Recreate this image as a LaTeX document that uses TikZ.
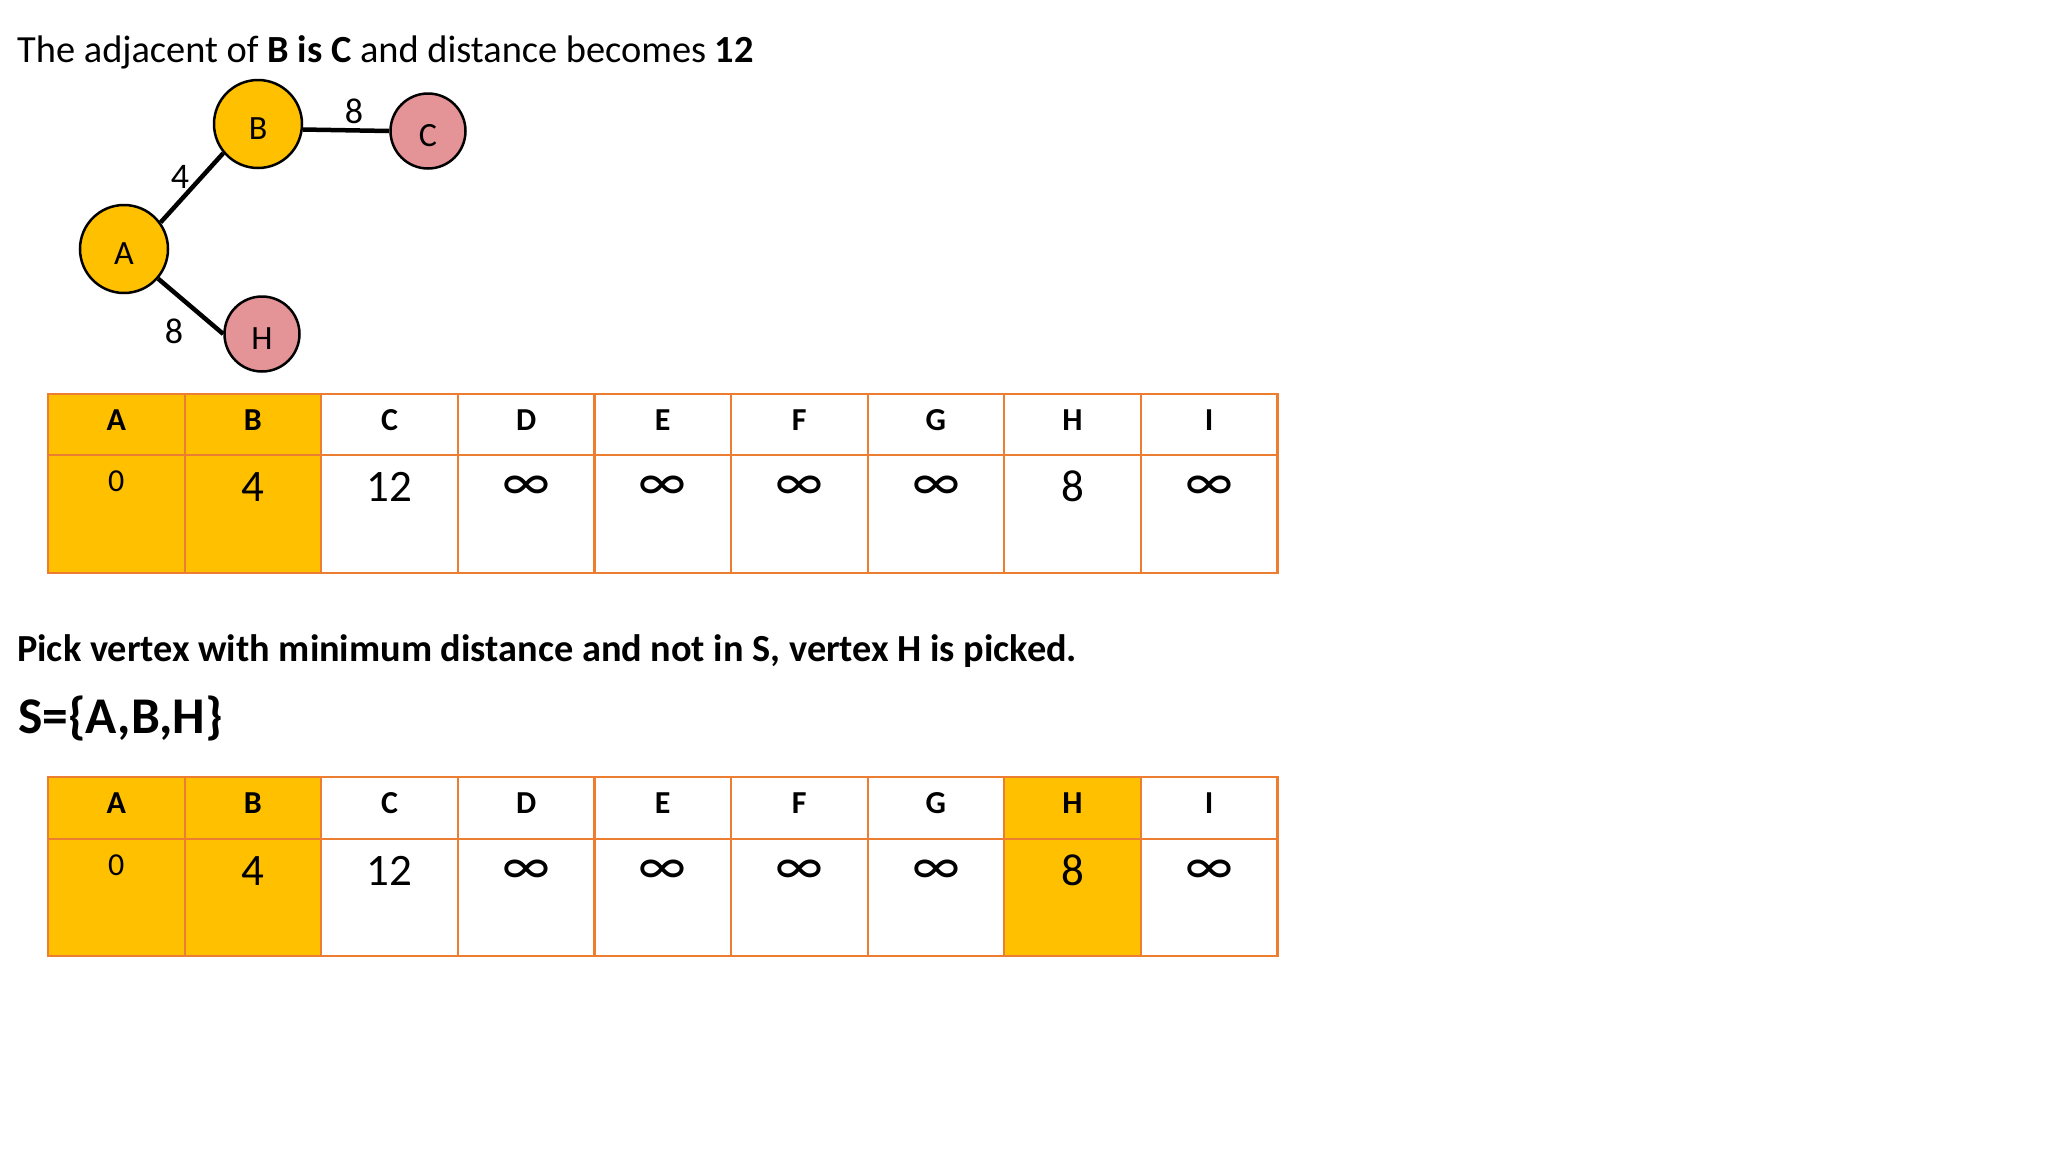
\documentclass[tikz,border=0pt]{standalone}
\usepackage{fontspec}
\setmainfont{Carlito}
\definecolor{yel}{HTML}{FFC000}
\definecolor{pnk}{HTML}{E49497}
\definecolor{org}{HTML}{ED7D31}
\tikzset{
  vtx/.style={circle, draw=black, line width=2.5pt, inner sep=0pt, minimum size=#1, text height=30pt, text depth=0pt, font=\fontsize{34}{40}\selectfont},
  edge/.style={line width=4.5pt, black},
  elab/.style={inner sep=0pt, font=\fontsize{36}{42}\selectfont},
  cell/.style={rectangle, draw=org, line width=2.2pt, inner sep=0pt},
  hdr/.style={anchor=base, inner sep=0pt, font=\fontsize{32}{36}\selectfont\bfseries},
  vsmall/.style={anchor=base, inner sep=0pt, yshift=-36pt, font=\fontsize{32}{38}\selectfont},
  vbig/.style={anchor=base, inner sep=0pt, yshift=-46pt, font=\fontsize{45}{50}\selectfont},
  vinf/.style={anchor=center, inner sep=0pt, yshift=-33pt, font=\fontsize{56}{60}\selectfont},
}
\newcommand{\dtable}[5]{%
  \foreach \i/\l/\v/\vs/\fc in {#5}{%
    \pgfmathsetmacro{\xc}{48+(\i+0.5)*136.6}
    \node[cell, fill=\fc, minimum width=136.6pt, minimum height={#3-#2}] (#1h\i) at (\xc,{(#2+#3)/2}) {};
    \node[cell, fill=\fc, minimum width=136.6pt, minimum height={#4-#3}] (#1c\i) at (\xc,{(#3+#4)/2}) {};
    \node[hdr] (#1l\i) at (\xc,{#2+36}) {\l};
    \node[\vs] (#1v\i) at (\xc,#3) {\v};
  }%
}
\begin{document}
\begin{tikzpicture}[x=1pt,y=-1pt]
\useasboundingbox[fill=white] (0,0) rectangle (2048,1152);

% title
\node[anchor=base west, inner sep=0pt, font=\fontsize{38.4}{44}\selectfont] (title) at (17,62)
  {The adjacent of \textbf{B is C} and distance becomes \textbf{12}};

% graph
\node[vtx=88pt, fill=yel] (A) at (124,249) {A};
\node[vtx=88pt, fill=yel] (B) at (258,124) {B};
\node[vtx=75pt, fill=pnk] (C) at (428,131) {C};
\node[vtx=75pt, fill=pnk] (H) at (262,334) {H};
\draw[edge] (A.36) -- (B.220);
\draw[edge] (B.-7) -- (C.west);
\draw[edge] (A.-41) -- (H.west);
\node[elab] (l1) at (180,177) {4};
\node[elab] (l2) at (354,111) {8};
\node[elab] (l3) at (174,331) {8};

% table 1
\dtable{ta}{394}{455}{573}{0/A/0/vsmall/yel, 1/B/4/vbig/yel, 2/C/12/vbig/white, 3/D/∞/vinf/white, 4/E/∞/vinf/white, 5/F/∞/vinf/white, 6/G/∞/vinf/white, 7/H/8/vbig/white, 8/I/∞/vinf/white}

% texts
\node[anchor=base west, inner sep=0pt, font=\fontsize{38.3}{44}\selectfont\bfseries] (pick) at (17,661)
  {Pick vertex with minimum distance and not in S, vertex H is picked.};
\node[anchor=base west, inner sep=0pt, font=\fontsize{51.5}{56}\selectfont\bfseries] (sset) at (18,733)
  {S=\{A,B,H\}};

% table 2
\dtable{tb}{777}{839}{956}{0/A/0/vsmall/yel, 1/B/4/vbig/yel, 2/C/12/vbig/white, 3/D/∞/vinf/white, 4/E/∞/vinf/white, 5/F/∞/vinf/white, 6/G/∞/vinf/white, 7/H/8/vbig/yel, 8/I/∞/vinf/white}
\end{tikzpicture}
\end{document}
